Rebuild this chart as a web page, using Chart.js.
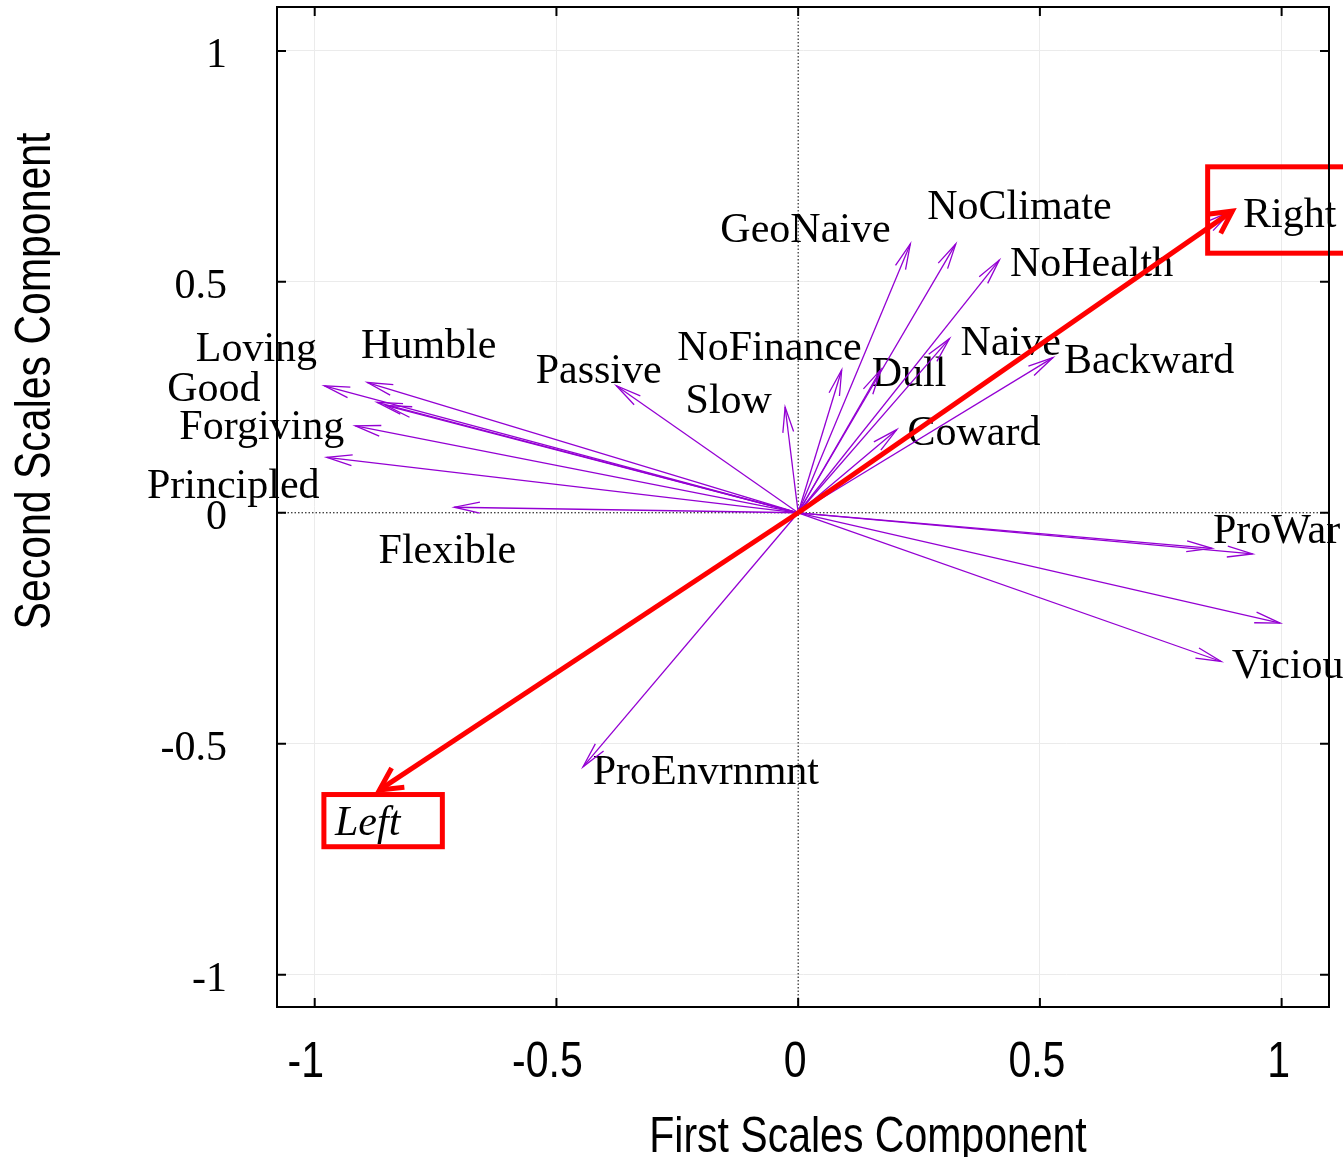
<!DOCTYPE html>
<html>
<head>
<meta charset="utf-8">
<title>Scales components</title>
<script src="https://cdn.jsdelivr.net/npm/chart.js@4.4.1/dist/chart.umd.min.js"></script>
<style>
  html, body { margin: 0; padding: 0; background: #fff; }
  #wrap { width: 1343px; height: 1157px; }
</style>
</head>
<body>
<div id="wrap"><canvas id="chart" width="1343" height="1157"></canvas></div>
<script>
'use strict';

// ===== DATA =====
// purple loading vectors (tips, origin is 0,0)
const vectorNames = ['Right','GeoNaive','NoClimate','NoHealth','Naive','Backward','Dull','NoFinance','Coward','Slow','Passive',
  'Good','Humble','Loving','Loving-b','Forgiving','Principled','Flexible','ProWar','ProWar-b','unlabelled','Vicious','ProEnvrnmnt'];
const vectorX = [0.895, 0.232, 0.326, 0.416, 0.313, 0.527, 0.171, 0.090, 0.204, -0.027, -0.376,
  -0.980, -0.891, -0.871, -0.852, -0.916, -0.975, -0.711, 0.940, 0.856, 0.997, 0.875, -0.445];
const vectorY = [0.652, 0.582, 0.582, 0.547, 0.377, 0.336, 0.310, 0.309, 0.180, 0.229, 0.275,
  0.275, 0.282, 0.239, 0.232, 0.188, 0.120, 0.012, -0.089, -0.077, -0.239, -0.322, -0.550];

// red Left / Right direction
const sideNames = ['Right', 'Left'];
const sideX = [0.898, -0.866];
const sideY = [0.653, -0.600];

// text labels (left end, baseline) in data units
const labelText = ['GeoNaive','NoClimate','Right','NoHealth','NoFinance','Naive','Backward','Dull','Passive','Slow','Coward',
  'Loving','Humble','Good','Forgiving','Principled','Flexible','ProWar','Vicious','ProEnvrnmnt','Left'];
const labelX = [-0.161, 0.267, 0.920, 0.438, -0.250, 0.336, 0.550, 0.152, -0.543, -0.233, 0.226,
  -1.246, -0.904, -1.305, -1.280, -1.347, -0.868, 0.858, 0.897, -0.425, -0.958];
const labelY = [0.586, 0.635, 0.619, 0.512, 0.331, 0.341, 0.303, 0.274, 0.280, 0.215, 0.147,
  0.329, 0.336, 0.242, 0.160, 0.031, -0.108, -0.066, -0.358, -0.587, -0.698];
const italicLabels = ['Left'];

// red boxes round Right and Left: [x1, y1, x2, y2]
const boxes = [[0.847, 0.749, 1.20, 0.562], [-0.981, -0.610, -0.736, -0.723]];

const X_MIN = -1.078, X_MAX = 1.098;
const Y_MIN = -1.070, Y_MAX = 1.095;

// ===== STYLE =====
const SERIF = "'Liberation Serif', 'Times New Roman', serif";
const SANS = "'Liberation Sans', Arial, sans-serif";
const NARROW = 0.82; // horizontal squeeze, mimics Arial Narrow
const PURPLE = '#9400d3';
const RED = '#ff0000';

const datasets = [];
vectorX.forEach((vx, i) => {
  datasets.push({
    label: vectorNames[i],
    data: [{ x: 0, y: 0 }, { x: vx, y: vectorY[i] }],
    showLine: true, borderColor: PURPLE, borderWidth: 1.3, pointRadius: 0,
    order: 2, headLength: 26, headAngle: 0.21
  });
});
sideX.forEach((sx, i) => {
  datasets.push({
    label: sideNames[i],
    data: [{ x: 0, y: 0 }, { x: sx, y: sideY[i] }],
    showLine: true, borderColor: RED, borderWidth: 5, pointRadius: 0,
    order: 1, headLength: 25, headAngle: 0.48
  });
});

function narrowText(ctx, text, x, y, rot) {
  ctx.save();
  ctx.translate(x, y);
  if (rot) ctx.rotate(rot);
  ctx.scale(NARROW, 1);
  ctx.fillText(text, 0, 0);
  ctx.restore();
}

// ===== EXTRAS PLUGIN =====
const extras = {
  id: 'extras',
  beforeDatasetsDraw(chart) {
    const { ctx, chartArea: a, scales: { x, y } } = chart;
    ctx.save();
    // dotted zero axes
    ctx.strokeStyle = '#000';
    ctx.lineWidth = 1;
    ctx.setLineDash([1.5, 2]);
    const x0 = x.getPixelForValue(0), y0 = y.getPixelForValue(0);
    ctx.beginPath();
    ctx.moveTo(x0, a.top); ctx.lineTo(x0, a.bottom);
    ctx.moveTo(a.left, y0); ctx.lineTo(a.right, y0);
    ctx.stroke();
    ctx.setLineDash([]);
    // labels
    ctx.fillStyle = '#000';
    ctx.textAlign = 'left';
    ctx.textBaseline = 'alphabetic';
    labelText.forEach((t, i) => {
      ctx.font = (italicLabels.includes(t) ? 'italic ' : '') + '42px ' + SERIF;
      ctx.fillText(t, x.getPixelForValue(labelX[i]), y.getPixelForValue(labelY[i]));
    });
    ctx.restore();
  },
  afterDatasetDraw(chart, args) {
    const ctx = chart.ctx;
    const ds = chart.data.datasets[args.index];
    const pts = args.meta.data;
    const p0 = pts[0], p1 = pts[pts.length - 1];
    const ang = Math.atan2(p1.y - p0.y, p1.x - p0.x);
    const L = ds.headLength, s = ds.headAngle;
    ctx.save();
    ctx.strokeStyle = ds.borderColor;
    ctx.lineWidth = ds.borderWidth;
    ctx.beginPath();
    ctx.moveTo(p1.x - L * Math.cos(ang - s), p1.y - L * Math.sin(ang - s));
    ctx.lineTo(p1.x, p1.y);
    ctx.lineTo(p1.x - L * Math.cos(ang + s), p1.y - L * Math.sin(ang + s));
    ctx.stroke();
    ctx.restore();
  },
  afterDatasetsDraw(chart) {
    const { ctx, scales: { x, y } } = chart;
    ctx.save();
    ctx.strokeStyle = RED;
    ctx.lineWidth = 5;
    boxes.forEach(b => {
      const x1 = x.getPixelForValue(b[0]), y1 = y.getPixelForValue(b[1]);
      const x2 = x.getPixelForValue(b[2]), y2 = y.getPixelForValue(b[3]);
      ctx.strokeRect(x1, y1, x2 - x1, y2 - y1);
    });
    ctx.restore();
  },
  afterDraw(chart) {
    const { ctx, chartArea: a, scales: { x, y } } = chart;
    ctx.save();
    ctx.strokeStyle = '#000';
    ctx.lineWidth = 2;
    // top + right frame
    ctx.beginPath();
    ctx.moveTo(a.left, a.top); ctx.lineTo(a.right, a.top); ctx.lineTo(a.right, a.bottom);
    ctx.stroke();
    // inward ticks on all four sides
    ctx.beginPath();
    x.ticks.forEach(t => {
      const px = x.getPixelForValue(t.value);
      ctx.moveTo(px, a.bottom); ctx.lineTo(px, a.bottom - 9);
      ctx.moveTo(px, a.top); ctx.lineTo(px, a.top + 9);
    });
    y.ticks.forEach(t => {
      const py = y.getPixelForValue(t.value);
      ctx.moveTo(a.left, py); ctx.lineTo(a.left + 9, py);
      ctx.moveTo(a.right, py); ctx.lineTo(a.right - 9, py);
    });
    ctx.stroke();
    // x tick labels (narrow sans), nudged like the original
    ctx.fillStyle = '#000';
    ctx.font = '50px ' + SANS;
    ctx.textAlign = 'center';
    ctx.textBaseline = 'alphabetic';
    x.ticks.forEach(t => {
      const nudge = t.value < 0 ? -9 : -3;
      narrowText(ctx, String(t.value), x.getPixelForValue(t.value) + nudge, a.bottom + 70);
    });
    // axis titles
    narrowText(ctx, 'First Scales Component', 868, 1152);
    narrowText(ctx, 'Second Scales Component', 50, 381, -Math.PI / 2);
    ctx.restore();
  }
};

const zeroHidden = c => (c.tick && c.tick.value === 0) ? 'rgba(0,0,0,0)' : '#ebebeb';

new Chart(document.getElementById('chart'), {
  type: 'scatter',
  data: { datasets },
  options: {
    responsive: false,
    animation: false,
    layout: { padding: { top: 7, right: 14, left: 0, bottom: 0 } },
    plugins: { legend: { display: false }, tooltip: { enabled: false } },
    scales: {
      x: {
        type: 'linear', position: 'bottom', min: X_MIN, max: X_MAX,
        afterFit(s) { s.height = 150; s.paddingLeft = 0; s.paddingRight = 0; },
        ticks: { stepSize: 0.5, includeBounds: false, display: false, autoSkip: false },
        grid: { color: zeroHidden, drawTicks: false, lineWidth: 1 },
        border: { color: '#000', width: 2 }
      },
      y: {
        type: 'linear', position: 'left', min: Y_MIN, max: Y_MAX,
        afterFit(s) { s.width = 277; s.paddingTop = 0; s.paddingBottom = 0; },
        ticks: { stepSize: 0.5, includeBounds: false, color: '#000', padding: 50, labelOffset: 5, autoSkip: false,
                 font: { family: SERIF, size: 42 }, callback: v => String(v) },
        grid: { color: zeroHidden, drawTicks: false, lineWidth: 1 },
        border: { color: '#000', width: 2 }
      }
    }
  },
  plugins: [extras]
});
</script>
</body>
</html>
